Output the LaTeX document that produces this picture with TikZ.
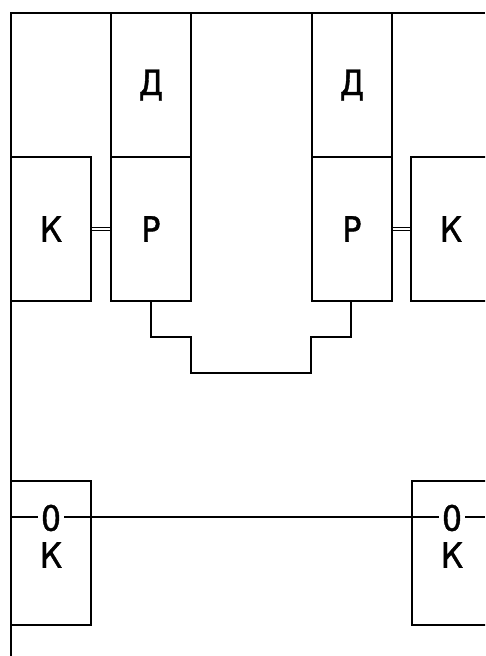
\documentclass[tikz,border=0pt]{standalone}
\usepackage{fontspec}
\setmainfont{DejaVu Sans Condensed}
\newfontfamily\labelfont[FakeBold=1.2]{DejaVu Sans Condensed}
\begin{document}
\begin{tikzpicture}[x=1pt,y=-1pt,
  wire/.style={line width=1.2pt,black},
  block/.style={draw,line width=1.2pt,rectangle,inner sep=0pt,
    minimum width=80pt,minimum height=144pt,
    font=\labelfont\fontsize{35}{40}\selectfont},
  tag/.style={inner sep=3pt,font=\labelfont\fontsize{35}{40}\selectfont}]
\clip (0,0) rectangle (485,656);
\fill[white] (0,0) rectangle (485,656);

% frame lines
\coordinate (tl) at (11,13);
\coordinate (tr) at (485,13);
\coordinate (bl) at (11,656);
\draw[wire] (tr) -- (tl) -- (bl);

% left unit
\node[block] (dl) at (151,85)  {Д};
\node[block] (pl) at (151,229) {Р};
\node[block] (kl) at (51,229)  {К};

% right unit
\node[block] (dr) at (352,85)  {Д};
\node[block] (pr) at (352,229) {Р};
\node[block] (kr) at (451,229) {К};

% couplings between К and Р
\draw[wire,double=white,double distance=2pt] (kl.east) -- (pl.west);
\draw[wire,double=white,double distance=2pt] (pr.east) -- (kr.west);

% stepped link between the two Р blocks
\coordinate (s1) at (151,337);
\coordinate (s2) at (191,337);
\coordinate (s3) at (191,373);
\coordinate (s4) at (311,373);
\coordinate (s5) at (311,337);
\coordinate (s6) at (351,337);
\draw[wire] (pl.south) -- (s1) -- (s2) -- (s3) -- (s4) -- (s5) -- (s6) -- (s6 |- pr.south);

% lower ОК blocks
\node[block] (okl) at (51,553)  {};
\node[block] (okr) at (452,553) {};
\node[tag] (zl) at (51,518) {0};
\node[tag] at (51,555) {К};
\node[tag] (zr) at (452,518) {0};
\node[tag] at (452,555) {К};

% through line
\coordinate (le) at (11,517);
\coordinate (re) at (485,517);
\draw[wire] (le) -- (le -| zl.west);
\draw[wire] (le -| zl.east) -- (le -| zr.west);
\draw[wire] (le -| zr.east) -- (re);
\end{tikzpicture}
\end{document}
